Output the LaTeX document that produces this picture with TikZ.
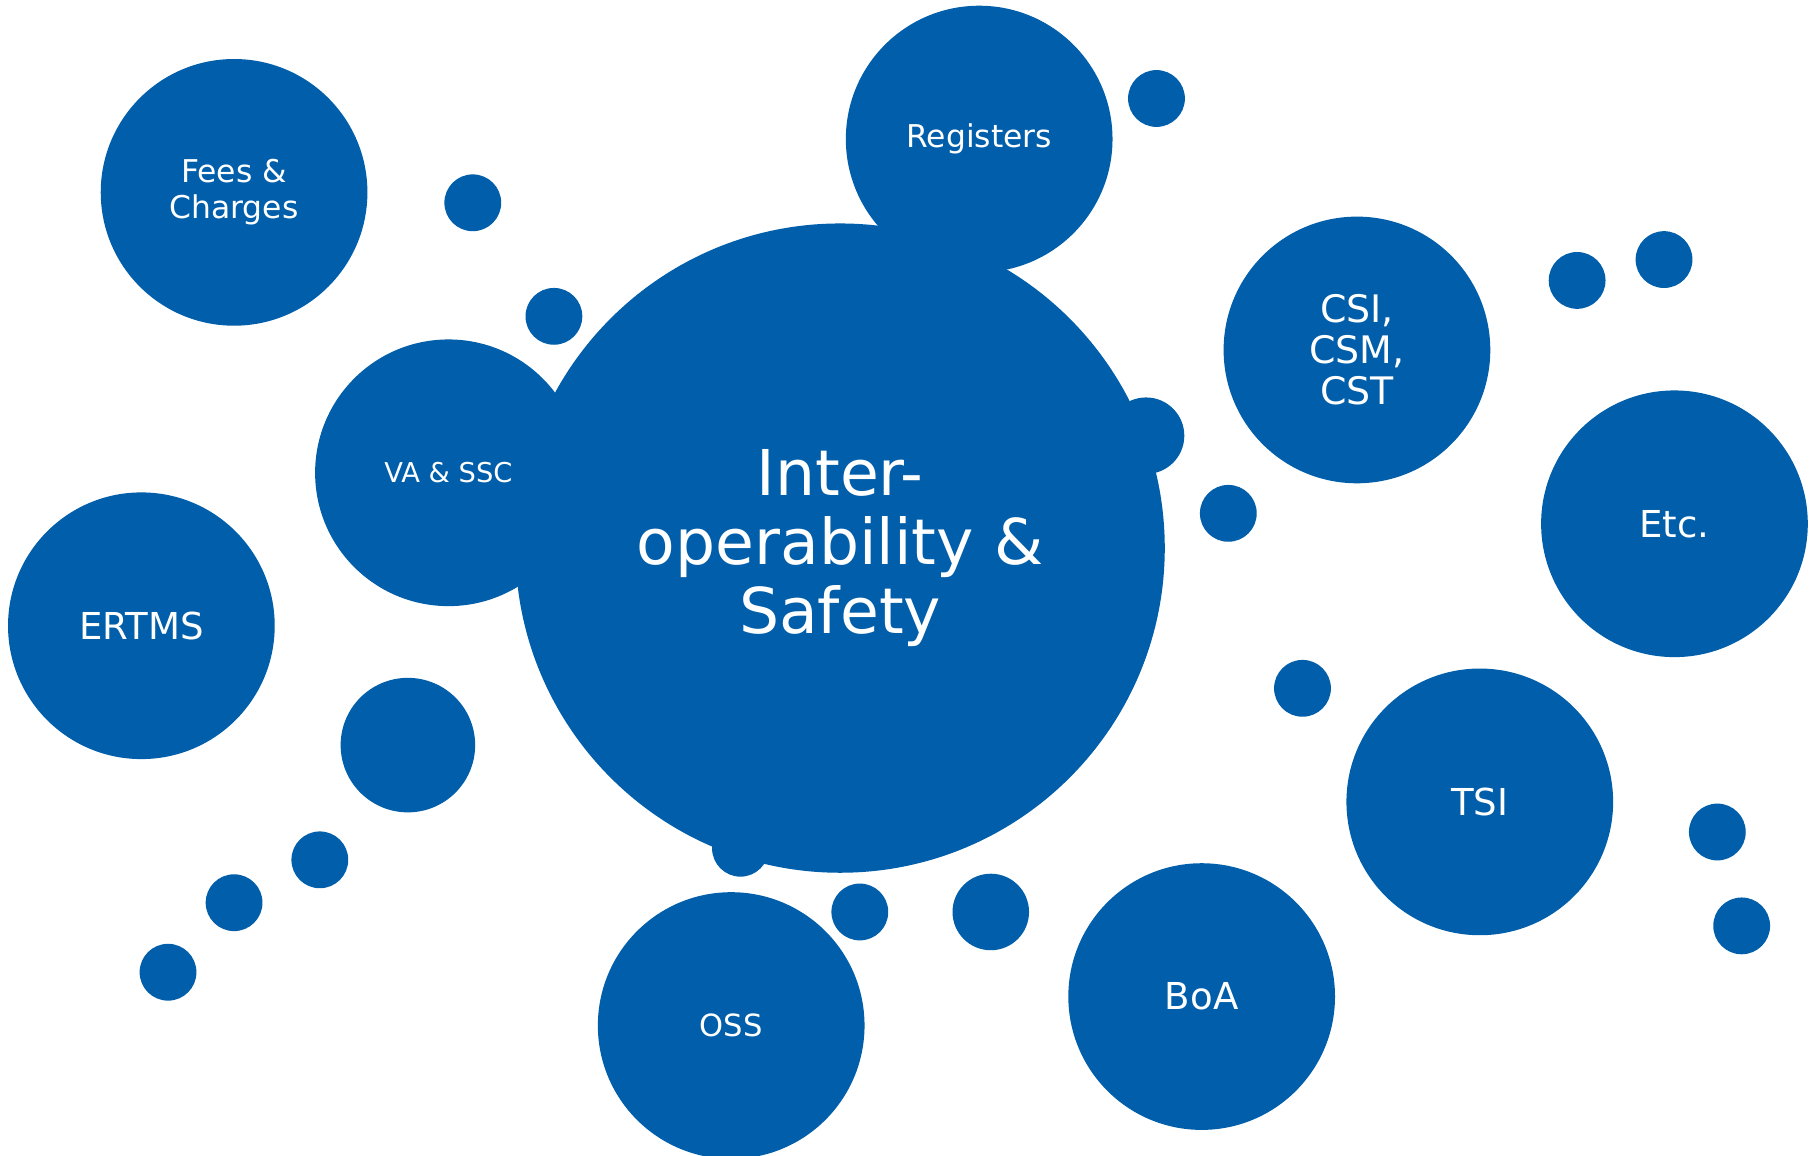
\documentclass[tikz,border=0pt]{standalone}
\usepackage{fontspec}
\setmainfont{DejaVu Sans}
\definecolor{bblue}{HTML}{005EAA}
\begin{document}
\begin{tikzpicture}[x=0.01cm,y=-0.01cm,
  bub/.style={circle, fill=bblue, draw=none, inner sep=0pt, outer sep=0pt, text=white, align=center},
  bigbub/.style={bub, minimum size=5.6cm},
  midbub/.style={bub, minimum size=2.3cm},
  medbub/.style={bub, minimum size=1.16cm},
  dotbub/.style={bub, minimum size=0.49cm},
  dotbig/.style={bub, minimum size=0.66cm}]
\useasboundingbox (0,0) rectangle (1568,997);
% central bubble
\node[bigbub, font=\fontsize{15.5}{17}\selectfont] (main) at (725,473) {Inter-\\operability \&\\Safety};
% labelled bubbles
\node[midbub, font=\fontsize{7.7}{8.8}\selectfont] (reg) at (845,120) {Registers};
\node[midbub, font=\fontsize{7.7}{8.8}\selectfont] (fees) at (202,166) {Fees \&\\Charges};
\node[midbub, font=\fontsize{6.7}{8}\selectfont] (va) at (387,408) {VA \& SSC};
\node[midbub, font=\fontsize{9.1}{10}\selectfont] (ertms) at (122,540) {ERTMS};
\node[midbub, font=\fontsize{9.3}{10}\selectfont] (csi) at (1171,302) {CSI,\\CSM,\\CST};
\node[midbub, font=\fontsize{9.1}{10}\selectfont] (etc) at (1445,452) {Etc.};
\node[midbub, font=\fontsize{9.1}{10}\selectfont] (tsi) at (1277,692) {TSI};
\node[midbub, font=\fontsize{9.1}{10}\selectfont] (boa) at (1037,860) {BoA};
\node[midbub, font=\fontsize{7.5}{8.5}\selectfont] (oss) at (631,885) {OSS};
% unlabelled bubbles
\node[medbub] (m1) at (352,643) {};
\node[dotbub] (s1) at (408,175) {};
\node[dotbub] (s2) at (478,273) {};
\node[dotbub] (s3) at (998,85) {};
\node[dotbig] (s4) at (989,376) {};
\node[dotbub] (s5) at (1060,443) {};
\node[dotbub] (s6) at (1361,242) {};
\node[dotbub] (s7) at (1436,224) {};
\node[dotbub] (s8) at (1124,594) {};
\node[dotbub] (s9) at (1482,718) {};
\node[dotbub] (s10) at (1503,799) {};
\node[dotbig] (s11) at (855,787) {};
\node[dotbub] (s12) at (742,787) {};
\node[dotbub] (s13) at (639,732) {};
\node[dotbub] (s14) at (276,742) {};
\node[dotbub] (s15) at (202,779) {};
\node[dotbub] (s16) at (145,839) {};
\end{tikzpicture}
\end{document}
